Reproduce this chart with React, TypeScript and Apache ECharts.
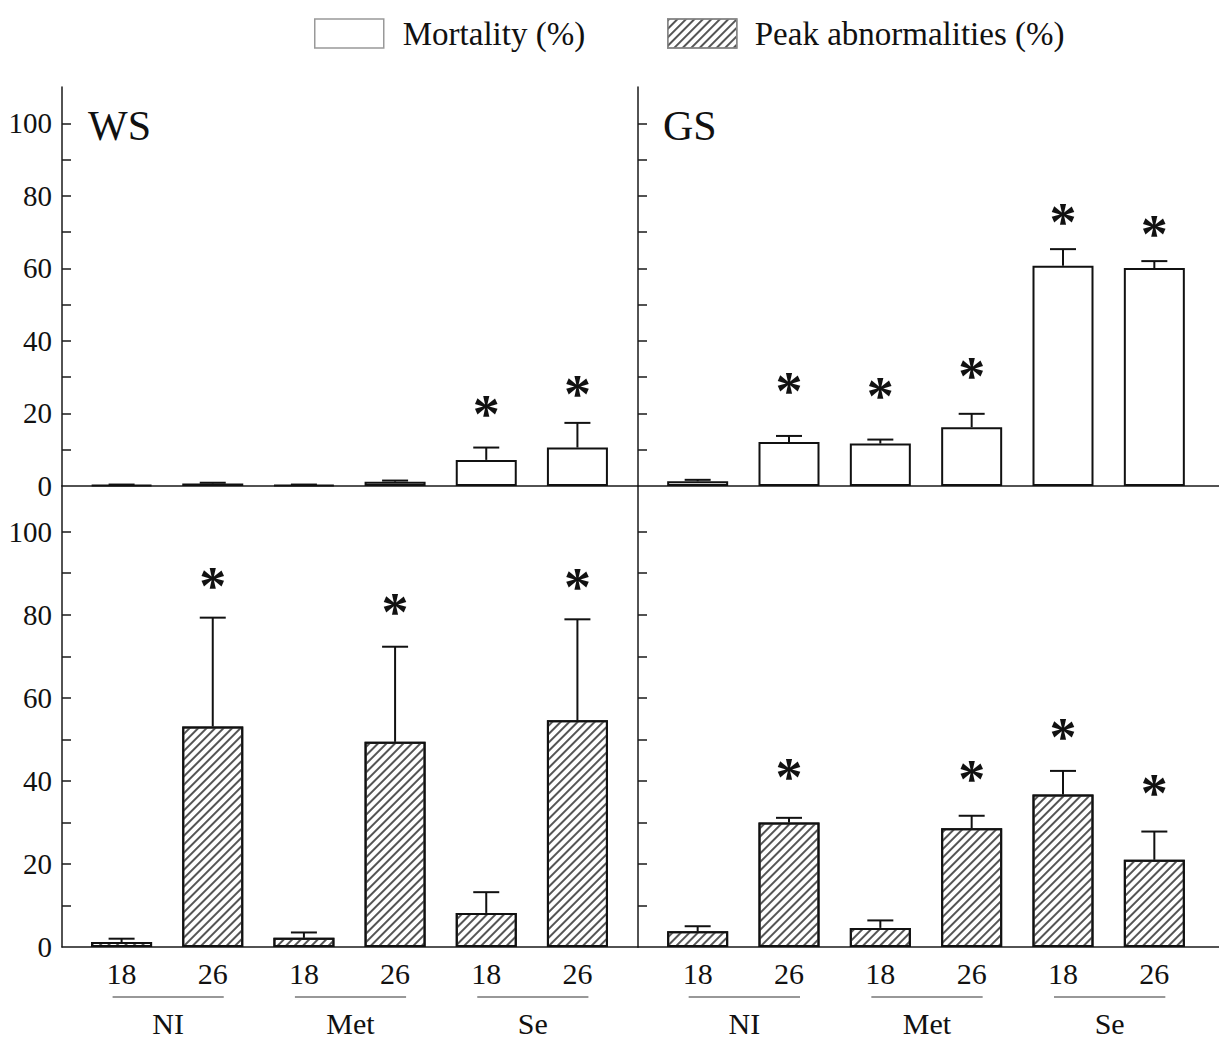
import React, { useEffect, useRef } from "react";
import * as echarts from "echarts";

const FONT = "'Liberation Serif', 'Times New Roman', 'DejaVu Serif', serif";

const categories = ["18", "26", "18", "26", "18", "26"];
const groups = ["NI", "Met", "Se"];
const panelTitles = ["WS", "GS"];
const seriesNames = ["Mortality (%)", "Peak abnormalities (%)"];

// Mortality (%), top row
const wsMort = [0.3, 0.7, 0.3, 1.2, 7.2, 10.6];
const wsMortSd = [0.1, 0.2, 0.1, 0.3, 3.4, 6.8];
const wsMortStar = [null, null, null, null, 22.5, 28.0];
const gsMort = [1.3, 12.1, 11.7, 16.2, 60.7, 60.1];
const gsMortSd = [0.4, 1.7, 1.1, 3.7, 4.6, 1.9];
const gsMortStar = [null, 28.6, 27.3, 32.8, 75.2, 71.9];

// Peak abnormalities (%), bottom row
const wsAbn = [1.2, 53.1, 2.2, 49.4, 8.2, 54.6];
const wsAbnSd = [0.8, 26.2, 1.3, 22.9, 5.0, 24.3];
const wsAbnStar = [null, 89.2, null, 82.8, null, 89.0];
const gsAbn = [3.8, 30.0, 4.6, 28.6, 36.7, 21.0];
const gsAbnSd = [1.2, 1.1, 1.8, 3.0, 5.7, 6.8];
const gsAbnStar = [null, 43.1, null, 42.7, 52.7, 39.3];

const yTicks = [10, 20, 30, 40, 50, 60, 70, 80, 90, 100];
const yLabels = [0, 20, 40, 60, 80, 100];

const TOP_MAX = 110;
const BOT_MAX = 111;

export default function App() {
  const ref = useRef<HTMLDivElement>(null);

  useEffect(() => {
    document.body.style.margin = "0";
    const chart = echarts.init(ref.current!, null, { renderer: "svg" });

    const frameGrids = [
      { left: 62, top: 87, width: 576, height: 399 },
      { left: 638, top: 87, width: 581, height: 399 },
      { left: 62, top: 486, width: 576, height: 461 },
      { left: 638, top: 486, width: 581, height: 461 },
    ];
    const barGrids = [
      { left: 76, top: 87, width: 547, height: 399 },
      { left: 652, top: 87, width: 548, height: 399 },
      { left: 76, top: 486, width: 547, height: 461 },
      { left: 652, top: 486, width: 548, height: 461 },
    ];
    const maxes = [TOP_MAX, TOP_MAX, BOT_MAX, BOT_MAX];

    const lineStyle = { color: "#1a1a1a", width: 1.5 };

    const xAxes: any[] = [];
    const yAxes: any[] = [];
    for (let p = 0; p < 4; p++) {
      xAxes.push({
        gridIndex: p,
        type: "value",
        min: 0,
        max: 1,
        axisLine: { show: true, onZero: false, lineStyle },
        axisTick: { show: false },
        axisLabel: { show: false },
        splitLine: { show: false },
      });
      yAxes.push({
        gridIndex: p,
        type: "value",
        min: 0,
        max: maxes[p],
        axisLine: { show: true, onZero: false, lineStyle },
        axisTick: { show: true, inside: true, length: 9, customValues: yTicks, lineStyle },
        axisLabel: {
          show: p % 2 === 0,
          customValues: yLabels,
          margin: 10,
          fontFamily: FONT,
          fontSize: 29,
          color: "#111",
        },
        splitLine: { show: false },
      });
    }
    for (let p = 0; p < 4; p++) {
      xAxes.push({
        gridIndex: 4 + p,
        type: "category",
        data: categories,
        axisLine: { show: false },
        axisTick: { show: false },
        axisLabel: {
          show: p >= 2,
          margin: 11,
          fontFamily: FONT,
          fontSize: 30,
          color: "#111",
        },
        splitLine: { show: false },
      });
      yAxes.push({
        gridIndex: 4 + p,
        type: "value",
        min: 0,
        max: maxes[p],
        show: false,
        splitLine: { show: false },
      });
    }

    const hatch = {
      symbol: "rect",
      symbolSize: 1,
      dashArrayX: [1, 0],
      dashArrayY: [1.1, 4],
      rotation: -Math.PI / 4,
      color: "#555555",
      backgroundColor: "#ffffff",
    };

    const panels = [
      { mean: wsMort, sd: wsMortSd, star: wsMortStar, name: seriesNames[0], hatched: false },
      { mean: gsMort, sd: gsMortSd, star: gsMortStar, name: seriesNames[0], hatched: false },
      { mean: wsAbn, sd: wsAbnSd, star: wsAbnStar, name: seriesNames[1], hatched: true },
      { mean: gsAbn, sd: gsAbnSd, star: gsAbnStar, name: seriesNames[1], hatched: true },
    ];

    const STAR_SIZE = 54;
    const series: any[] = [];
    panels.forEach((pn, p) => {
      const itemStyle: any = { color: "#ffffff", borderColor: "#111", borderWidth: 2 };
      if (pn.hatched) itemStyle.decal = hatch;
      series.push({
        type: "bar",
        name: pn.name,
        xAxisIndex: 4 + p,
        yAxisIndex: 4 + p,
        barWidth: 61,
        data: pn.mean,
        itemStyle,
        emphasis: { disabled: true },
      });
      series.push({
        type: "custom",
        name: pn.name + " err",
        xAxisIndex: 4 + p,
        yAxisIndex: 4 + p,
        data: pn.mean.map((m, i) => [i, m, pn.sd[i], pn.star[i] == null ? -1 : pn.star[i]]),
        renderItem: (params: any, api: any) => {
          const i = api.value(0);
          const m = api.value(1);
          const sd = api.value(2);
          const st = api.value(3);
          const base = api.coord([i, m]);
          const top = api.coord([i, m + sd]);
          const children: any[] = [
            {
              type: "line",
              shape: { x1: base[0], y1: base[1], x2: top[0], y2: top[1] },
              style: { stroke: "#111", lineWidth: 2 },
            },
            {
              type: "line",
              shape: { x1: top[0] - 13, y1: top[1], x2: top[0] + 13, y2: top[1] },
              style: { stroke: "#111", lineWidth: 2 },
            },
          ];
          if (st > 0) {
            const sp = api.coord([i, st]);
            children.push({
              type: "text",
              x: sp[0],
              y: sp[1] + STAR_SIZE * 0.17,
              style: {
                text: "*",
                fontFamily: FONT,
                fontSize: STAR_SIZE,
                fontWeight: "bold",
                fill: "#111",
                align: "center",
                verticalAlign: "middle",
              },
            });
          }
          return { type: "group", children };
        },
        z: 3,
      });
    });

    const titles = [
      {
        type: "text",
        x: 88,
        y: 126,
        style: { text: panelTitles[0], fontFamily: FONT, fontSize: 42, fill: "#111", verticalAlign: "middle" },
      },
      {
        type: "text",
        x: 663,
        y: 126,
        style: { text: panelTitles[1], fontFamily: FONT, fontSize: 42, fill: "#111", verticalAlign: "middle" },
      },
    ];

    chart.setOption({
      animation: false,
      backgroundColor: "#ffffff",
      legend: [
        {
          left: 309,
          top: 12,
          icon: "rect",
          itemWidth: 69,
          itemHeight: 29,
          selectedMode: false,
          data: [{ name: seriesNames[0], itemStyle: { color: "#fff", borderColor: "#999", borderWidth: 1.5 } }],
          textStyle: { fontFamily: FONT, fontSize: 33, color: "#111", padding: [0, 0, 0, 14] },
        },
        {
          left: 662,
          top: 12,
          icon: "rect",
          itemWidth: 69,
          itemHeight: 29,
          selectedMode: false,
          data: [{ name: seriesNames[1], itemStyle: { borderColor: "#888", borderWidth: 1.5 } }],
          textStyle: { fontFamily: FONT, fontSize: 33, color: "#111", padding: [0, 0, 0, 13] },
        },
      ],
      grid: [...frameGrids, ...barGrids],
      xAxis: xAxes,
      yAxis: yAxes,
      series,
      graphic: titles,
    });

    // group labels under the bottom category axes
    const extra: any[] = [];
    [6, 7].forEach((axisIdx) => {
      groups.forEach((g, gi) => {
        const x0 = chart.convertToPixel({ xAxisIndex: axisIdx } as any, gi * 2) as number;
        const x1 = chart.convertToPixel({ xAxisIndex: axisIdx } as any, gi * 2 + 1) as number;
        extra.push({
          type: "line",
          shape: { x1: x0 - 9, y1: 997, x2: x1 + 11, y2: 997 },
          style: { stroke: "#333", lineWidth: 1.2 },
        });
        extra.push({
          type: "text",
          x: (x0 + x1) / 2 + 1,
          y: 1023,
          style: {
            text: g,
            fontFamily: FONT,
            fontSize: 30,
            fill: "#111",
            align: "center",
            verticalAlign: "middle",
          },
        });
      });
    });
    chart.setOption({ graphic: [...titles, ...extra] });

    return () => chart.dispose();
  }, []);

  return <div ref={ref} style={{ width: 1219, height: 1041 }} />;
}
